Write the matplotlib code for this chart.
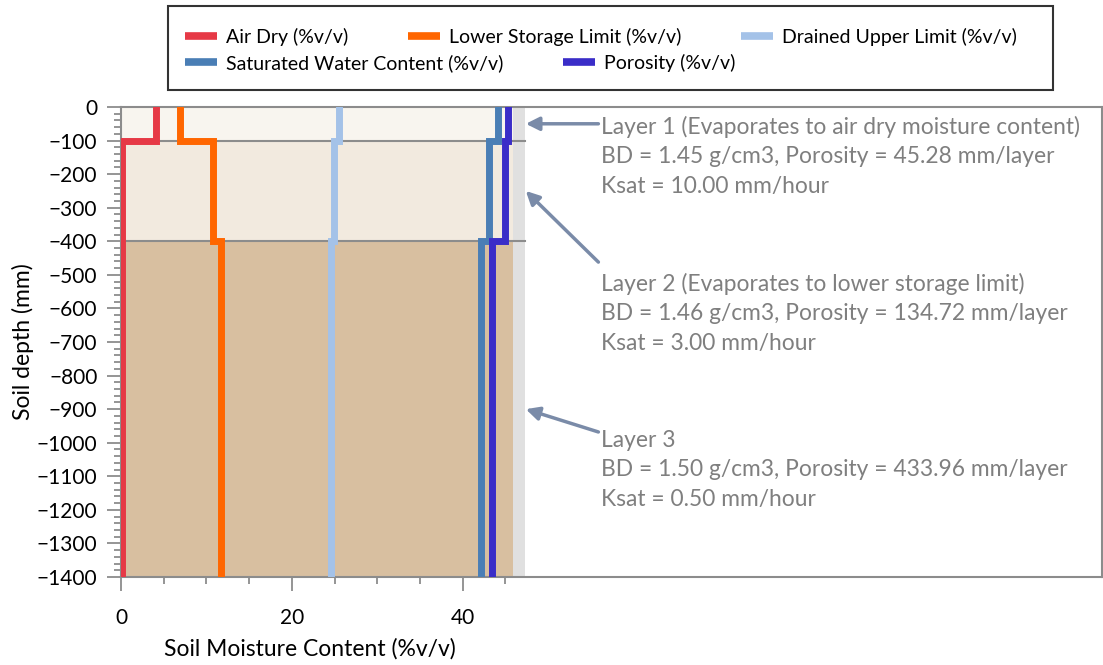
import matplotlib
matplotlib.use("Agg")
import matplotlib.pyplot as plt
from matplotlib.lines import Line2D
from matplotlib.patches import Rectangle
import numpy as np

plt.rcParams['font.family'] = ['Lato', 'DejaVu Sans']

# soil layers (mm)
layer_top = [0, -100, -400]
layer_bottom = [-100, -400, -1400]
layer_colors = ['#f8f5ef', '#f2eadf', '#d8bfa0']

# %v/v per layer
air_dry = [4.1, 0.1, 0.1]
lower_storage = [6.9, 10.8, 11.7]
drained_upper = [25.5, 24.9, 24.6]
saturated = [44.1, 43.1, 42.2]
porosity = [45.28, 44.91, 43.40]

series = [
    ('Air Dry (%v/v)', air_dry, '#e63946'),
    ('Lower Storage Limit (%v/v)', lower_storage, '#ff6600'),
    ('Drained Upper Limit (%v/v)', drained_upper, '#a4c2e8'),
    ('Saturated Water Content (%v/v)', saturated, '#4a7eb5'),
    ('Porosity (%v/v)', porosity, '#3a2dc8'),
]

notes = [
    ['Layer 1 (Evaporates to air dry moisture content)',
     'BD = 1.45 g/cm3, Porosity = 45.28 mm/layer',
     'Ksat = 10.00 mm/hour'],
    ['Layer 2 (Evaporates to lower storage limit)',
     'BD = 1.46 g/cm3, Porosity = 134.72 mm/layer',
     'Ksat = 3.00 mm/hour'],
    ['Layer 3',
     'BD = 1.50 g/cm3, Porosity = 433.96 mm/layer',
     'Ksat = 0.50 mm/hour'],
]
arrow_depth = [-50, -250, -900]
tail_depth = [-50, -462, -968]
text_depth = [-146, -614, -1080]

shade_end = 45.9
strip_end = 47.3
grey = '#8c8c8c'

fig = plt.figure(figsize=(11.03, 6.65), dpi=100)
ax = fig.add_axes([121/1103, 1-577/665, (1102-121)/1103, 470/665])

for top, bot, c in zip(layer_top, layer_bottom, layer_colors):
    ax.add_patch(Rectangle((0, bot), shade_end, top-bot, facecolor=c, edgecolor='none', zorder=0))
ax.add_patch(Rectangle((shade_end, layer_bottom[-1]), strip_end-shade_end,
                       layer_top[0]-layer_bottom[-1], facecolor='#e0e0e0', edgecolor='none', zorder=0))
for d in layer_bottom[:-1]:
    ax.plot([0, strip_end], [d, d], color=grey, lw=1.5, zorder=1)

ys = np.ravel(list(zip(layer_top, layer_bottom)))
handles = []
for name, vals, col in series:
    xs = np.repeat(vals, 2)
    ax.plot(xs, ys, color=col, lw=5, solid_joinstyle='miter', zorder=3)
    handles.append(Line2D([], [], color=col, lw=5.5, solid_capstyle='butt'))

ax.set_xlim(0, (1102-121)/8.54)
ax.set_ylim(-1400, 0)
ax.set_xticks([0, 20, 40])
ax.set_xticks(np.arange(0, 50, 5), minor=True)
ax.set_yticks(np.arange(-1400, 1, 100))
ax.set_yticks(np.arange(-1400, 1, 20), minor=True)
ax.tick_params(which='major', length=10, width=1.3, color=grey, labelsize=15, pad=7)
ax.tick_params(which='minor', length=5, width=1.3, color=grey)
ax.tick_params(axis='x', which='major', pad=12)
for s in ax.spines.values():
    s.set_color(grey)
    s.set_linewidth(1.5)
ax.set_xlabel('Soil Moisture Content (%v/v)', fontsize=16.5)
ax.xaxis.set_label_coords((310-121)/981, -(638-577)/470)
ax.set_ylabel('Soil depth (mm)', fontsize=16.5, labelpad=2)

for lines, ad, td, yd in zip(notes, arrow_depth, tail_depth, text_depth):
    ax.annotate('', xy=(47.4, ad), xytext=(55.9, td),
                arrowprops=dict(arrowstyle='-|>', lw=2.5, color='#7a8ba8',
                                mutation_scale=20, shrinkA=0, shrinkB=0))
    ax.text(56.2, yd, '\n'.join(lines), fontsize=16.4, color='#7f7f7f',
            va='center', ha='left', linespacing=1.5)

# legend: two flowing rows inside one frame
fs = 14
px = fs * 100 / 72
common = dict(frameon=False, fontsize=fs, borderpad=0, borderaxespad=0,
              handlelength=32/px, handletextpad=8.7/px, columnspacing=60/px, loc='center left')
leg1 = fig.legend(handles[:3], [s[0] for s in series[:3]], ncol=3,
                  bbox_to_anchor=(185/1103, 1-37/665), **common)
leg2 = fig.legend(handles[3:], [s[0] for s in series[3:]], ncol=2,
                  bbox_to_anchor=(185/1103, 1-63/665), **common)
fig.add_artist(Rectangle((168/1103, 1-90/665), 885/1103, 84/665, transform=fig.transFigure,
                         fill=False, edgecolor='#333333', lw=1.5))

fig.savefig('out.png', dpi=100)
